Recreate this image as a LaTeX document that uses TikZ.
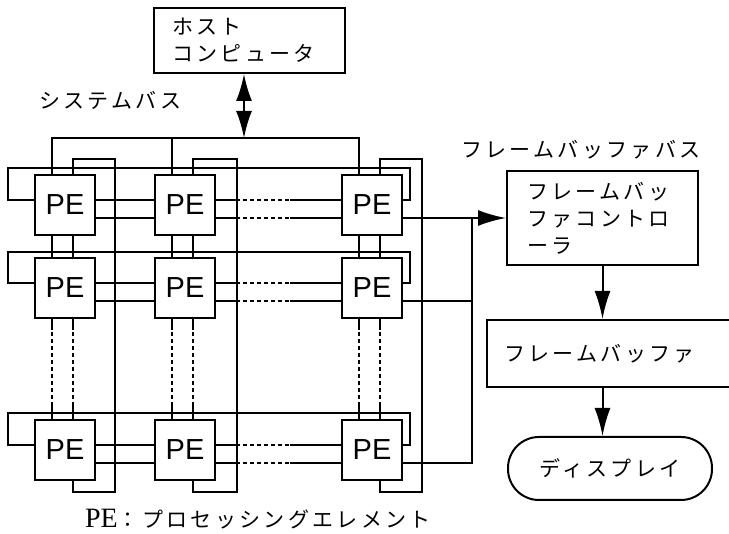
\documentclass[tikz,border=0pt]{standalone}
\usepackage{fontspec}
\usetikzlibrary{arrows.meta}
\newfontfamily\jpfont[LetterSpace=16]{Noto Sans CJK JP}
\newfontfamily\pefont{Liberation Sans}
\newfontfamily\romfont{Liberation Serif}
\tikzset{
  pebox/.style={draw, minimum width=60pt, minimum height=60pt, inner sep=0pt, outer sep=0pt,
    font=\pefont\fontsize{29}{29}\selectfont},
  blk/.style={draw, inner sep=0pt, align=left, font=\jpfont\fontsize{21}{27}\selectfont},
  lbl/.style={inner sep=0pt, font=\jpfont\fontsize{21}{27}\selectfont},
  bigarrow/.style={-{Latex[length=28pt,width=16pt]}},
  dblarrow/.style={{Latex[length=27pt,width=16pt]}-{Latex[length=27pt,width=16pt]}},
  dots/.style={dash pattern=on 4pt off 3pt},
}
\begin{document}
\begin{tikzpicture}[x=1pt, y=-1pt, line width=2pt, line join=miter]
  \useasboundingbox (0,0) rectangle (729,534);
  \clip (0,0) rectangle (729,534);
  % PE-Gitter
  \foreach \rw/\ty in {1/175, 2/258, 3/420}
    \foreach \cl/\lx in {1/35, 2/155, 3/342}
      \node[pebox] (pe\rw\cl) at ({\lx+30},{\ty+30}) {PE};
  % Bloecke rechts und oben
  \node[blk, minimum width=191pt, minimum height=65pt, text width=155pt, inner xsep=18pt] (host) at (249.5,40.5) {ホスト\\コンピュータ};
  \node[blk, minimum width=191pt, minimum height=94pt, text width=151pt, inner xsep=20pt] (ctrl) at (602.5,218) {フレームバッ\\ファコントロ\\ーラ};
  \node[blk, anchor=west, minimum width=260pt, minimum height=67pt, text width=226pt, inner xsep=17pt] (fb) at (486,353.5) {フレームバッファ};
  \node[blk, rounded corners=31pt, minimum width=204pt, minimum height=63pt, align=center] (disp) at (610,468.5) {ディスプレイ};
  \node[lbl, anchor=west] (sysbus) at (38,100) {システムバス};
  \node[lbl, anchor=west] (fbbus) at (460,150) {フレームバッファバス};
  \node[lbl, anchor=west] (legend) at (84,519) {{\romfont\fontsize{28}{28}\selectfont PE}：プロセッシングエレメント};
  % Zeilen
  \foreach \rw/\wy in {1/168, 2/252, 3/413} {
    \draw ([yshift=-25pt]pe\rw3.north east) -| (410,\wy) -- (8,\wy) |- ([yshift=-25pt]pe\rw1.north west);
    \foreach \dy in {25,43} {
      \draw ([yshift=-\dy pt]pe\rw1.north east) -- ([yshift=-\dy pt]pe\rw2.north west);
      \draw[dots] ([yshift=-\dy pt]pe\rw2.north east) -- ([yshift=-\dy pt]pe\rw3.north west);
      \draw ([yshift=-\dy pt]pe\rw2.north east) -- ++(25,0);
      \draw ([yshift=-\dy pt]pe\rw3.north west) -- ++(-52,0);
    }
  }
  % Spalten
  \foreach \cl/\vx in {1/115, 2/237, 3/422} {
    \draw ([xshift=38pt]pe1\cl.north west) |- (\vx,159) -- (\vx,492) -| ([xshift=38pt]pe3\cl.south west);
    \foreach \dx in {17,38} {
      \draw ([xshift=\dx pt]pe1\cl.south west) -- ([xshift=\dx pt]pe2\cl.north west);
      \draw[dots] ([xshift=\dx pt]pe2\cl.south west) -- ([xshift=\dx pt]pe3\cl.north west);
      \draw ([xshift=\dx pt]pe2\cl.south west) -- ++(0,12);
      \draw ([xshift=\dx pt]pe3\cl.north west) -- ++(0,-17);
    }
  }
  % Systembus
  \coordinate (bus) at (244,138);
  \draw ([xshift=17pt]pe11.north west) |- (bus) -| ([xshift=17pt]pe13.north west);
  \draw ([xshift=17pt]pe12.north west) |- (bus);
  \draw[dblarrow] (host.south -| bus) -- (bus);
  % Bildspeicherbus
  \coordinate (obus) at (472,218);
  \draw[bigarrow] ([yshift=-43pt]pe13.north east) -- (ctrl.west);
  \draw ([yshift=-43pt]pe23.north east) -| (obus);
  \draw ([yshift=-43pt]pe33.north east) -| (obus);
  \draw[bigarrow] (ctrl.south) -- (ctrl.south |- fb.north);
  \draw[bigarrow] (ctrl.south |- fb.south) -- (ctrl.south |- disp.north);
\end{tikzpicture}
\end{document}
